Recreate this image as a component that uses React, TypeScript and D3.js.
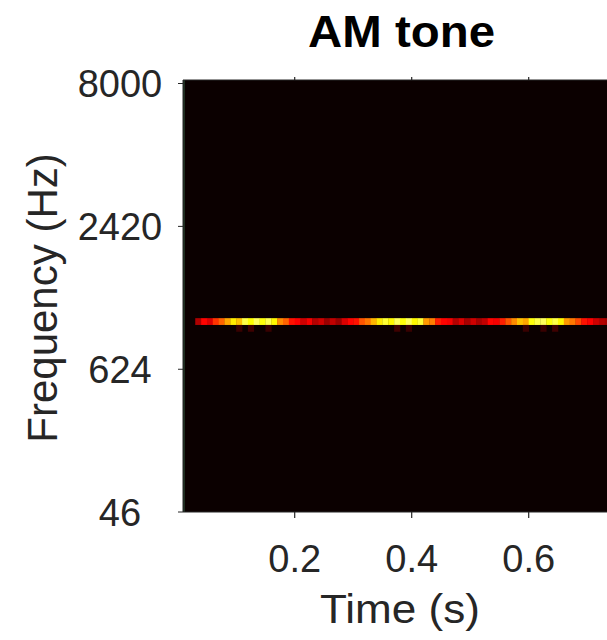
import React from "react";
import * as d3 from "d3";

// ---- data ----
const chartTitle = "AM tone";
const xLabel = "Time (s)";
const yLabel = "Frequency (Hz)";
const freqLow = 46;
const freqHigh = 8000;
const channelCount = 64;
const yTickFreqs = [46, 624, 2420, 8000];
const xTickValues = [0.2, 0.4, 0.6];
const timeStart = 0.01;
const timeBin = 0.01;
const toneChannel = 28;
const sideChannel = 27;
// normalised level (0..1) of the tone channel, one value per 10 ms frame
const toneRow = [
  0, 0, 0.25, 0.38, 0.32, 0.45, 0.52, 0.62, 0.72, 0.66,
  0.82, 0.75, 0.84, 0.76, 0.83, 0.74, 0.58, 0.52, 0.4, 0.37,
  0.3, 0.36, 0.26, 0.3, 0.22, 0.28, 0.22, 0.32, 0.38, 0.4,
  0.5, 0.55, 0.64, 0.72, 0.8, 0.74, 0.84, 0.76, 0.84, 0.74,
  0.8, 0.6, 0.56, 0.42, 0.38, 0.36, 0.26, 0.32, 0.24, 0.3,
  0.24, 0.28, 0.38, 0.36, 0.42, 0.5, 0.58, 0.66, 0.62, 0.76,
  0.82, 0.84, 0.76, 0.82, 0.74, 0.6, 0.55, 0.48, 0.4, 0.37,
  0.3, 0.26, 0.24,
];
// neighbouring channel (faint leakage)
const sideRow = [
  0, 0, 0, 0, 0, 0, 0, 0, 0, 0.07,
  0, 0.08, 0, 0, 0.07, 0, 0, 0, 0, 0,
  0, 0, 0, 0, 0, 0, 0, 0, 0, 0,
  0, 0, 0, 0, 0, 0, 0.08, 0, 0.07, 0,
  0, 0, 0, 0, 0, 0, 0, 0, 0, 0,
  0, 0, 0, 0, 0, 0, 0, 0, 0.07, 0,
  0, 0.07, 0, 0.08, 0, 0, 0, 0, 0, 0,
  0, 0, 0,
];

const erb = (f: number) => 21.4 * Math.log10(1 + 0.00437 * f);

const W = 607;
const H = 640;
const left = 183;
const top = 80;
const bottom = 512;
const right = 640;

export default function App() {
  const x = d3.scaleLinear().domain([0, 1]).range([177.7, 177.7 + 585]);
  const y = d3.scaleLinear().domain([erb(freqLow), erb(freqHigh)]).range([512, 83.5]);
  const step = (erb(freqHigh) - erb(freqLow)) / (channelCount - 1);
  const rowPx = Math.abs(y(erb(freqLow) + step) - y(erb(freqLow)));
  const hot = d3
    .scaleLinear<string>()
    .domain([0, 0.375, 0.75, 1])
    .range(["#0b0000", "#ff0000", "#ffff00", "#ffffff"])
    .clamp(true);

  const rows = [
    { ch: toneChannel, vals: toneRow },
    { ch: sideChannel, vals: sideRow },
  ];

  const font = "'Liberation Sans', Arial, Helvetica, sans-serif";
  const axisColor = "#262626";

  return (
    <svg
      width={W}
      height={H}
      style={{ position: "absolute", left: 0, top: 0, background: "#fff" }}
      fontFamily={font}
    >
      <defs>
        <clipPath id="plotclip">
          <rect x={left} y={top} width={right - left} height={bottom - top} />
        </clipPath>
      </defs>
      <g clipPath="url(#plotclip)">
        <rect x={left} y={top} width={right - left} height={bottom - top} fill={hot(0)} />
        {rows.map((r) => {
          const yc = y(erb(freqLow) + r.ch * step);
          return r.vals.map((v, k) =>
            v > 0 ? (
              <rect
                key={`${r.ch}-${k}`}
                x={x(timeStart + k * timeBin)}
                y={yc - rowPx / 2}
                width={x(timeStart + (k + 1) * timeBin) - x(timeStart + k * timeBin) + 0.3}
                height={rowPx}
                fill={hot(v)}
              />
            ) : null
          );
        })}
        <line x1={left + 1} x2={left + 1} y1={top} y2={bottom} stroke="#2f5a3c" strokeWidth={1} />
      </g>
      {/* axes box */}
      <line x1={left} x2={right} y1={top} y2={top} stroke={axisColor} strokeWidth={1} />
      <line x1={left} x2={right} y1={bottom} y2={bottom} stroke={axisColor} strokeWidth={1} />
      <line x1={left} x2={left} y1={top} y2={bottom} stroke={axisColor} strokeWidth={1} />
      {/* y ticks */}
      {yTickFreqs.map((f) => (
        <g key={f}>
          <line x1={left - 5} x2={left} y1={y(erb(f))} y2={y(erb(f))} stroke={axisColor} strokeWidth={1} />
          <text
            x={120}
            y={y(erb(f))}
            dy="0.36em"
            textAnchor="middle"
            fontSize={38}
            fill={axisColor}
          >
            {f}
          </text>
        </g>
      ))}
      {/* x ticks */}
      {xTickValues.map((t) => (
        <g key={t}>
          <line x1={x(t)} x2={x(t)} y1={bottom} y2={bottom + 6} stroke={axisColor} strokeWidth={1.2} />
          <line x1={x(t)} x2={x(t)} y1={top - 3} y2={top} stroke={axisColor} strokeWidth={1.2} />
          <text x={x(t)} y={572} textAnchor="middle" fontSize={38} fill={axisColor}>
            {d3.format(".1f")(t)}
          </text>
        </g>
      ))}
      {/* labels */}
      <text
        x={400}
        y={623}
        textAnchor="middle"
        fontSize={41}
        fill={axisColor}
        textLength={160}
        lengthAdjust="spacingAndGlyphs"
      >
        {xLabel}
      </text>
      <text
        transform="translate(57,298) rotate(-90)"
        textAnchor="middle"
        fontSize={42}
        fill={axisColor}
      >
        {yLabel}
      </text>
      <text
        x={401.5}
        y={47}
        textAnchor="middle"
        fontSize={44}
        fontWeight="bold"
        fill="#000"
        textLength={187}
        lengthAdjust="spacingAndGlyphs"
      >
        {chartTitle}
      </text>
    </svg>
  );
}
